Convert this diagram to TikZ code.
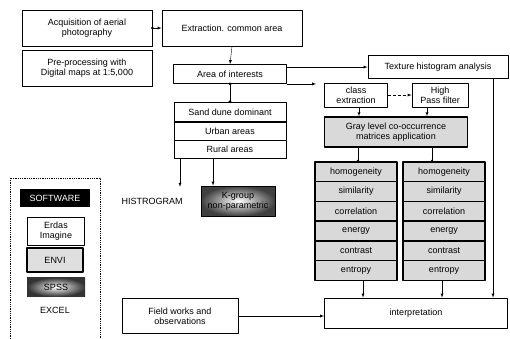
\documentclass[tikz,border=0pt]{standalone}
\usepackage{fontspec}
\setmainfont{Liberation Sans}
\begin{document}
\begin{tikzpicture}[x=1pt, y=-1pt, font=\fontsize{9}{10}\selectfont, line join=round, >=latex,
  box/.style={draw, thick, align=center, inner sep=1pt},
  feat/.style={draw, line width=1.4pt, fill=gray!30, minimum width=82pt, minimum height=19.7pt, inner sep=0pt},
  area/.style={draw, thick, minimum width=112pt, minimum height=18.5pt, inner sep=0pt},
  soft/.style={draw, thick, align=center, inner sep=1pt, minimum width=57pt}]
\useasboundingbox (0,0) rectangle (510,338);
\node[box, minimum width=130pt, minimum height=36pt] (acq) at (87,28) {Acquisition of aerial\\photography};
\node[box, minimum width=130pt, minimum height=36pt] (pre) at (87,68) {Pre-processing with\\Digital maps at 1:5,000};
\node[box, minimum width=140pt, minimum height=36pt] (extr) at (232,28) {Extraction. common area};
\node[box, minimum width=113pt, minimum height=19pt] (aoi) at (230,74) {Area of interests};
\node[box, minimum width=140pt, minimum height=23pt] (tex) at (438,67) {Texture histogram analysis};
\node[area, minimum height=20pt] (sand) at (230,112) {Sand dune dominant};
\node[area] (urban) at (230,131) {Urban areas};
\node[area] (rural) at (230,149.5) {Rural areas};
\node[minimum height=28pt] (histro) at (152,201) {HISTROGRAM};
\node[box, minimum width=74pt, minimum height=30pt, inner color=white, outer color=black!75] (kgroup) at (238,201) {K-group\\non-parametric};
\node[box, minimum width=63pt, minimum height=24pt] (cls) at (356,95) {class\\extraction};
\node[box, minimum width=56pt, minimum height=24pt] (hpf) at (440,95) {High\\Pass filter};
\node[box, line width=1.5pt, fill=gray!30, minimum width=143pt, minimum height=30pt] (glcm) at (396,132) {Gray level co-occurrence\\matrices application};
\foreach \f [count=\i] in {homogeneity,similarity,correlation,energy,contrast,entropy} {
  \node[feat] (L\i) at (356,{152.15+19.7*\i}) {\f};
  \node[feat] (R\i) at (444,{152.15+19.7*\i}) {\f};
}
\node[box, minimum width=183pt, minimum height=30pt] (interp) at (416,313) {interpretation};
\node[box, minimum width=116pt, minimum height=35pt] (field) at (180,316) {Field works and\\observations};
\draw[densely dotted, thick] (10,178) rectangle (100,340);
\node[fill=black, text=white, minimum width=70pt, minimum height=18pt] (softw) at (55,198) {SOFTWARE};
\node[soft, minimum height=28pt] (erdas) at (56,231) {Erdas\\Imagine};
\node[soft, line width=1.5pt, fill=gray!25, minimum width=56pt, minimum height=24pt] (envi) at (55,260) {ENVI};
\node[soft, draw=none, inner color=white, outer color=black!80, minimum width=58pt, minimum height=19pt] (spss) at (56,287) {SPSS};
\node (excel) at (55,310) {EXCEL};
\draw[->] (acq.east) -- (extr.west);
\fill (acq.east) circle (1.6pt);
\draw[->] (extr.south) -- (aoi.north);
\draw[->] (aoi.east |- tex.west) -- (tex.west);
\draw[->] (aoi.south east) -- ([xshift=-8pt]aoi.south east -| cls.west);
\draw (aoi.south) -- (sand.north);
\fill (aoi.south) circle (1.6pt) (sand.north) circle (1.6pt);
\draw[->] ([xshift=-50pt]rural.south) -- ([xshift=28pt]histro.north);
\draw[->] ([xshift=-17pt]rural.south) -- ([xshift=-25pt]kgroup.north);
\draw[->, densely dashed] (cls.east) -- (hpf.west);
\draw[->] ([xshift=3pt]cls.south) -- ([xshift=3pt]cls.south |- glcm.north);
\draw[->] ([xshift=-13pt]hpf.south) -- ([xshift=-13pt]hpf.south |- glcm.north);
\draw ([xshift=2pt]L1.north |- glcm.south) -- ([xshift=2pt]L1.north);
\draw ([xshift=-12pt]R1.north |- glcm.south) -- ([xshift=-12pt]R1.north);
\fill ([xshift=2pt]L1.north) circle (1.6pt) ([xshift=-12pt]R1.north) circle (1.6pt);
\draw[->] ([xshift=7pt]L6.south) -- ([xshift=7pt]L6.south |- interp.north);
\draw[->] ([xshift=-2pt]R6.south) -- ([xshift=-2pt]R6.south |- interp.north);
\draw[->] ([xshift=55pt]tex.south) -- ([xshift=55pt]tex.south |- interp.north);
\draw[->] (field.east) -- (field.east -| interp.west);
\end{tikzpicture}
\end{document}
